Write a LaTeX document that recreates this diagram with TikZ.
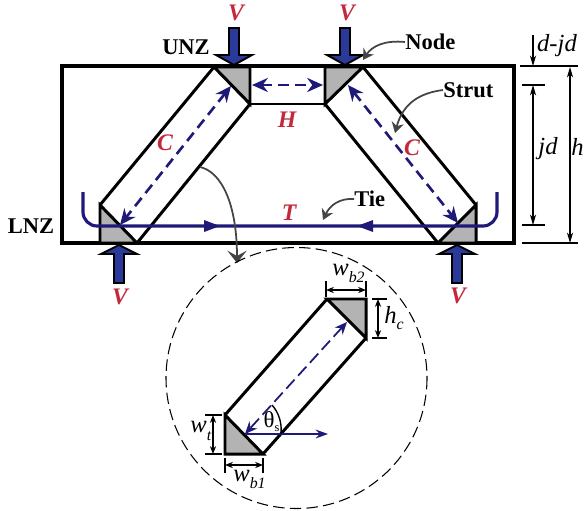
\documentclass[tikz,border=0pt]{standalone}
\usepackage{fontspec}
\setmainfont{Liberation Serif}
\usetikzlibrary{arrows.meta}
\definecolor{navy}{HTML}{1F1A78}
\definecolor{loadblue}{HTML}{2B3A9A}
\definecolor{lblred}{HTML}{C4283C}
\definecolor{nodegray}{HTML}{B3B3B3}
\definecolor{leadgray}{HTML}{444444}
\tikzset{
  strutline/.style={line width=1.7pt, black},
  nodezone/.style={fill=nodegray, draw=black, line width=1.7pt, line join=miter},
  loadarrow/.style={fill=loadblue, draw=black, line width=1.1pt, line join=miter},
  forcedash/.style={navy, line width=1.5pt, dash pattern=on 6pt off 3.5pt, {Stealth[length=9pt,width=8pt]}-{Stealth[length=9pt,width=8pt]}},
  tieline/.style={navy, line width=1.8pt},
  leader/.style={leadgray, line width=1pt, -{Stealth[length=6pt,width=7pt]}},
  dimline/.style={black, line width=0.6pt},
  dimarrow/.style={dimline, -{Stealth[length=6pt,width=3.5pt]}},
  dimboth/.style={dimline, line width=0.7pt, {Stealth[length=4.5pt,width=3.5pt]}-{Stealth[length=4.5pt,width=3.5pt]}},
  redlabel/.style={text=lblred, font=\bfseries\itshape\fontsize{13.5}{14}\selectfont, inner sep=0pt},
  blacklabel/.style={text=black, font=\bfseries\fontsize{12.8}{14}\selectfont, inner sep=0pt},
  biglabel/.style={text=black, font=\itshape\fontsize{14}{14}\selectfont, inner sep=0pt},
}
\newcommand{\subtext}[2]{\raisebox{#1}{\fontsize{9}{9}\selectfont #2}}
\begin{document}
\begin{tikzpicture}[x=0.02cm, y=-0.02cm]
\useasboundingbox (0,0) rectangle (584,510);
% beam
\draw[line width=1.9pt] (62,66) rectangle (514,243);
% struts
\draw[strutline] (214,67) -- (100,205);
\draw[strutline] (250,104) -- (137,243);
\draw[strutline] (363,67) -- (476,205);
\draw[strutline] (325,104) -- (438,243);
\draw[line width=0.9pt] (250,104) -- (325,104);
% node zones
\filldraw[nodezone] (214,67) -- (250,67) -- (250,104) -- cycle;
\filldraw[nodezone] (363,67) -- (325,67) -- (325,104) -- cycle;
\filldraw[nodezone] (100,205) -- (100,243) -- (137,243) -- cycle;
\filldraw[nodezone] (476,205) -- (476,243) -- (438,243) -- cycle;
% tie
\draw[tieline, rounded corners=8pt] (83,192) -- (83,226) -- (497,226) -- (497,192);
\fill[navy] (220,226) -- (204,220) -- (204,232) -- cycle;
\fill[navy] (357,226) -- (373,220) -- (373,232) -- cycle;
% forces in struts
\draw[forcedash] (231,86) -- (120,225);
\draw[forcedash] (348,85) -- (458,223);
\draw[forcedash] (252,85) -- (323,85);
% loads
\draw[loadarrow, shift={(234,0)}] (-5,28) -- (5,28) -- (5,55) -- (18,55) -- (0,65) -- (-18,55) -- (-5,55) -- cycle;
\draw[loadarrow, shift={(345,0)}] (-5,28) -- (5,28) -- (5,55) -- (18,55) -- (0,65) -- (-18,55) -- (-5,55) -- cycle;
\draw[loadarrow, shift={(119,0)}] (-5,283) -- (5,283) -- (5,254) -- (18,254) -- (0,245) -- (-18,254) -- (-5,254) -- cycle;
\draw[loadarrow, shift={(457,0)}] (-5,283) -- (5,283) -- (5,254) -- (18,254) -- (0,245) -- (-18,254) -- (-5,254) -- cycle;
% labels
\node[redlabel] (vtl) at (236,13) {V};
\node[redlabel] (vtr) at (347,13) {V};
\node[redlabel] (vbl) at (120,297) {V};
\node[redlabel] (vbr) at (458,296) {V};
\node[redlabel] (hlab) at (287,120) {H};
\node[redlabel] (cleft) at (165,143) {C};
\node[redlabel] (cright) at (412,148) {C};
\node[redlabel] (tlab) at (289,213) {T};
\node[blacklabel] (unz) at (186,47) {UNZ};
\node[blacklabel] (lnz) at (31,226) {LNZ};
\node[blacklabel, anchor=west] (nodelab) at (405,42) {Node};
\node[blacklabel, anchor=west] (strutlab) at (443,90) {Strut};
\node[blacklabel, anchor=west] (tielab) at (354,199) {Tie};
% leaders
\draw[leader] (nodelab.west) .. controls (385,40) and (372,46) .. (363,60);
\draw[leader] (strutlab.west) .. controls (420,93) and (403,103) .. (395,133);
\draw[leader] (tielab.west) .. controls (340,198) and (330,205) .. (323,220);
\draw[leader, -{Stealth[length=7pt,width=11pt,inset=3pt]}] (200,167) .. controls (222,172) and (237,205) .. (237,263);
% depth dimensions
\draw[dimline] (520,66) -- (578,66);
\draw[dimline, line width=0.8pt] (522,85) -- (545,85);
\draw[dimline, line width=0.8pt] (522,225) -- (545,225);
\draw[dimline] (522,243) -- (578,243);
\draw[dimarrow] (533,35) -- (533,66);
\draw[dimline, <->, >={Stealth[length=6pt,width=3.5pt]}] (533,85) -- (533,225);
\draw[dimline, <->, >={Stealth[length=6pt,width=3.5pt]}] (570,67) -- (570,243);
\node[biglabel] (djd) at (557,46) {d-jd};
\node[biglabel] (jd) at (548,149) {jd};
\node[biglabel, anchor=east] (hdim) at (584,147) {h};
% detail circle
\draw[dash pattern=on 6.5pt off 3pt, line width=0.6pt] (296.5,378) circle [radius=130.5];
\draw[strutline] (327,299) -- (225,415);
\draw[strutline] (366,338) -- (263,454);
\filldraw[nodezone] (327,299) -- (366,299) -- (366,338) -- cycle;
\filldraw[nodezone] (225,415) -- (225,454) -- (263,454) -- cycle;
\draw[navy, line width=1pt, dash pattern=on 7pt off 3pt, {Stealth[length=7pt,width=6pt]}-{Stealth[length=7pt,width=6pt]}] (347,322) -- (245,434);
\draw[navy, line width=1.1pt, -{Stealth[length=7pt,width=5pt]}] (245,434) -- (328,434);
\draw[line width=0.8pt] (272,405) .. controls (279,413) and (282,423) .. (281,434);
\node[font=\fontsize{13}{14}\selectfont, inner sep=0pt] (theta) at (269,420) {θ};
\node[font=\fontsize{7}{7}\selectfont, inner sep=0pt] (thetas) at (277,429) {s};
% detail dimensions
\draw[dimline] (326,281) -- (326,297);
\draw[dimline] (366,281) -- (366,297);
\draw[dimboth] (326,290) -- (366,290);
\draw[dimline, line width=0.8pt] (372,299) -- (387,299);
\draw[dimline, line width=0.8pt] (372,338) -- (387,338);
\draw[dimboth] (378,299) -- (378,338);
\draw[dimline, line width=0.8pt] (205,415) -- (222,415);
\draw[dimline, line width=0.8pt] (205,454) -- (222,454);
\draw[dimboth] (213,415) -- (213,454);
\draw[dimline] (225,458) -- (225,473);
\draw[dimline] (263,458) -- (263,473);
\draw[dimboth] (225,465) -- (263,465);
\node[biglabel, anchor=west] (wbtwo) at (332,273) {w\subtext{-4pt}{b2}};
\node[biglabel, anchor=west] (hc) at (384,318) {h\subtext{-3pt}{c}};
\node[biglabel, anchor=west] (wt) at (190,431) {w\subtext{-5pt}{t}};
\node[biglabel, anchor=west] (wbone) at (233,479) {w\subtext{-4pt}{b1}};
\end{tikzpicture}
\end{document}
